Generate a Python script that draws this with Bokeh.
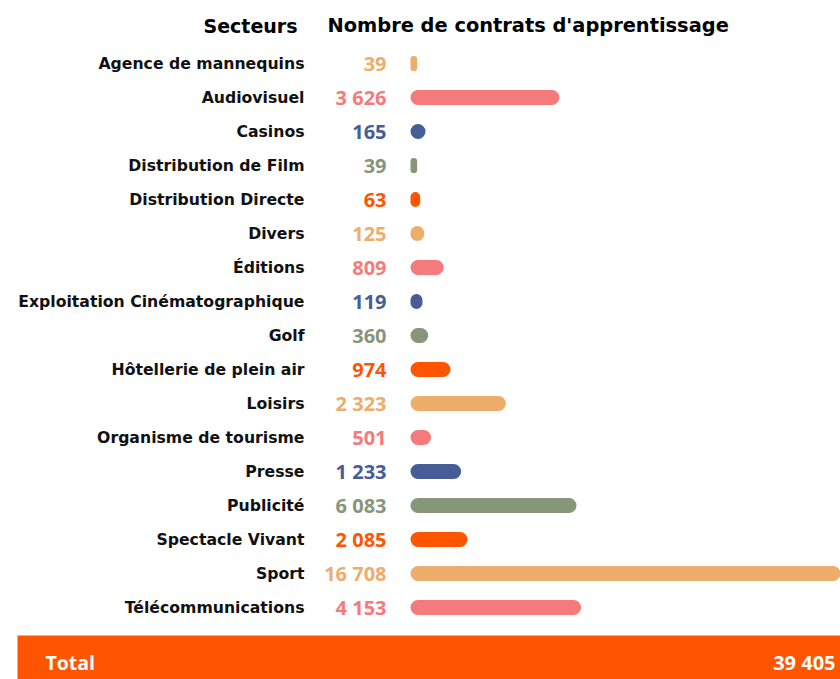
from bokeh.plotting import figure
from bokeh.models import Range1d, ColumnDataSource
from bokeh.core.properties import value
from bokeh.embed import file_html
from bokeh.resources import INLINE

# ---- data ----
secteurs = ["Agence de mannequins", "Audiovisuel", "Casinos", "Distribution de Film",
            "Distribution Directe", "Divers", "Éditions", "Exploitation Cinématographique",
            "Golf", "Hôtellerie de plein air", "Loisirs", "Organisme de tourisme",
            "Presse", "Publicité", "Spectacle Vivant", "Sport", "Télécommunications"]
contrats = [39, 3626, 165, 39, 63, 125, 809, 119, 360, 974, 2323, 501,
            1233, 6083, 2085, 16708, 4153]
# bar lengths as drawn in the picture (same unit: contracts)
barres = [163, 3626, 365, 163, 236, 334, 809, 292, 431, 974, 2323, 501,
          1233, 4042, 1388, 16708, 4153]
total_label = "Total"
total_value = 39405
titre_secteurs = "Secteurs"
titre_valeurs = "Nombre de contrats d'apprentissage"

palette = ["#EDAD6B", "#F47A7C", "#465D96", "#869679", "#FF5400"]

# ---- layout constants ----
W, H = 840, 679
PX_PER_UNIT = 0.04107
BAR_X0 = 410       # px of bar start inside figure
ROW0 = 63          # px of first row centre
ROW_STEP = 34      # px per row
BAR_H = 15

def fmt(v):
    return f"{v:,}".replace(",", " ")

n = len(secteurs)
idx = list(range(n))
colors = [palette[i % len(palette)] for i in idx]

src = ColumnDataSource(dict(
    y=idx, right=barres, label=secteurs, val=[fmt(v) for v in contrats],
    color=colors, zero=[0] * n))

x_range = Range1d(-BAR_X0 / PX_PER_UNIT, (W - BAR_X0) / PX_PER_UNIT)
y_range = Range1d((H - ROW0) / ROW_STEP, -ROW0 / ROW_STEP)

p = figure(width=W, height=H, x_range=x_range, y_range=y_range,
           output_backend="svg", toolbar_location=None,
           x_axis_location=None, y_axis_location=None, min_border=0,
           outline_line_color=None, background_fill_color="white",
           border_fill_color="white")
p.grid.visible = False

LBL_FONT = value("DejaVu Sans")
NUM_FONT = value("Open Sans")

# bars
p.hbar(y="y", left="zero", right="right", height=BAR_H / ROW_STEP,
       color="color", line_color=None, border_radius=8, source=src)

# sector labels
p.text(x="zero", y="y", text="label", source=src, x_offset=-106,
       text_align="right", text_baseline="middle", text_font=LBL_FONT,
       text_font_size="15.7px", text_font_style="bold", text_color="#111111")
# values
p.text(x="zero", y="y", text="val", source=src, x_offset=-24,
       text_align="right", text_baseline="middle", text_font=NUM_FONT,
       text_font_size="20px", text_font_style="bold", text_color="color")

# headers
p.text(x=[0], y=[0], text=[titre_secteurs], x_offset=-113, y_offset=-38,
       text_align="right", text_baseline="middle", text_font=LBL_FONT,
       text_font_size="19px", text_font_style="bold", text_color="black")
p.text(x=[0], y=[0], text=[titre_valeurs], x_offset=-83, y_offset=-38,
       text_align="left", text_baseline="middle", text_font=LBL_FONT,
       text_font_size="19.4px", text_font_style="bold", text_color="black")

# total band
tot_top = (635 - ROW0) / ROW_STEP
p.quad(left=[(17 - BAR_X0) / PX_PER_UNIT], right=[x_range.end],
       top=[tot_top], bottom=[y_range.start], color="#FF5400", line_color=None)
last = n - 1
p.text(x=[0], y=[last], text=[total_label], x_offset=-365, y_offset=55,
       text_align="left", text_baseline="middle", text_font=NUM_FONT,
       text_font_size="19.5px", text_font_style="bold", text_color="white")
p.text(x=[0], y=[last], text=[fmt(total_value)], x_offset=425, y_offset=55,
       text_align="right", text_baseline="middle", text_font=NUM_FONT,
       text_font_size="20px", text_font_style="bold", text_color="white")

open("out.html", "w").write(file_html(p, INLINE))
